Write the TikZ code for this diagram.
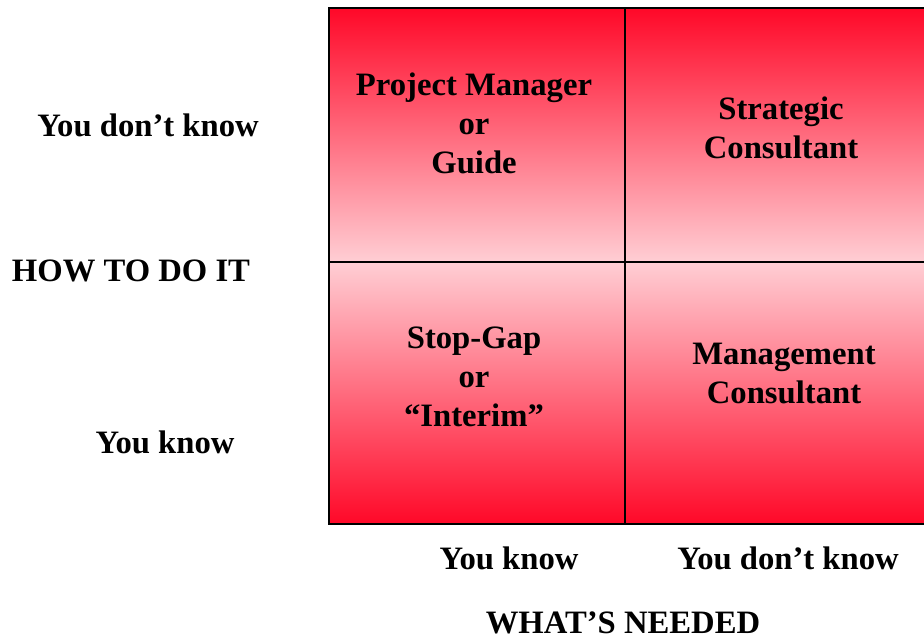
\documentclass[tikz,border=0pt]{standalone}
\usepackage{fontspec}
\setmainfont{Liberation Serif}
\definecolor{deepred}{RGB}{255,8,40}
\definecolor{palepink}{RGB}{255,206,212}
\tikzset{
  lbl/.style={font=\bfseries\fontsize{24.5}{29.25}\selectfont, inner sep=0pt, align=center},
  grid/.style={draw=black, line width=1.1pt}
}
\begin{document}
\begin{tikzpicture}[x=0.75pt, y=-0.75pt]
  \useasboundingbox (0,0) rectangle (924,637);
  % shaded quadrants: each row fades from deep red at the outer edge to pale pink at the centre line
  \shade[top color=deepred, bottom color=palepink] (329,8) rectangle (926,262);
  \shade[top color=palepink, bottom color=deepred] (329,262) rectangle (926,524);
  % grid lines
  \draw[grid] (329,8) rectangle (926,524);
  \draw[grid] (625,8) -- (625,524);
  \draw[grid] (329,262) -- (926,262);
  % quadrant labels
  \node[lbl] (pm) at (474,123) {Project Manager\\or\\Guide};
  \node[lbl] (sc) at (781,128) {Strategic\\Consultant};
  \node[lbl] (sg) at (474,377) {Stop-Gap\\or\\“Interim”};
  \node[lbl] (mc) at (784,373) {Management\\Consultant};
  % vertical axis labels
  \node[lbl] (ydk) at (148,125) {You don’t know};
  \node[lbl] (how) at (131,271) {HOW TO DO IT};
  \node[lbl] (yk) at (165,442) {You know};
  % horizontal axis labels
  \node[lbl] (xk) at (509,558) {You know};
  \node[lbl] (xdk) at (788,558) {You don’t know};
  \node[lbl, anchor=base] (what) at (623,633) {WHAT’S NEEDED};
\end{tikzpicture}
\end{document}
